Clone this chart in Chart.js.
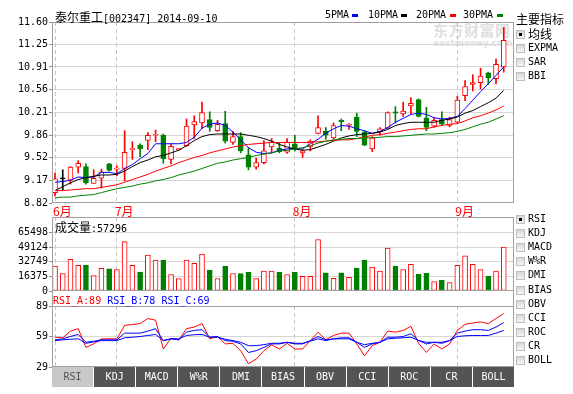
<!DOCTYPE html>
<html><head><meta charset="utf-8"><title>泰尔重工</title>
<script src="https://cdn.jsdelivr.net/npm/chart.js@4.4.1/dist/chart.umd.min.js"></script>
<style>
html,body{margin:0;padding:0;background:#fff;}
body{width:573px;height:394px;position:relative;overflow:hidden;font-family:"DejaVu Sans Mono",monospace;font-size:10px;color:#000;}
.a{position:absolute;white-space:nowrap;}
canvas{position:absolute;left:0;}
.cjk{font-family:"Noto Sans CJK SC",sans-serif;font-size:12px;}
.m{font-family:"DejaVu Sans Mono",monospace;font-size:10px;}
.cb{position:absolute;left:516px;width:7px;height:7px;border:1px solid #bdbdbd;background:linear-gradient(#d6d6d6,#f6f6f6);}
.cb.on::after{content:"";position:absolute;left:2px;top:2px;width:3px;height:3px;background:#000;}
.lb{position:absolute;left:528px;line-height:12px;white-space:nowrap;}
#tabs{position:absolute;left:52px;top:367px;width:462px;height:20px;display:flex;}
#tabs div{flex:1;margin-right:1px;background:#545454;color:#fff;text-align:center;line-height:20px;font-size:10px;}
#tabs div.sel{background:#c8c8c8;color:#555;}
#tabs div:last-child{margin-right:0}
.dash{position:absolute;width:6px;height:3px;top:14px;}
</style></head><body>
<div class="a" style="left:433px;top:19px;color:#e0e0e0;font:bold 15px 'Noto Sans CJK SC',sans-serif;letter-spacing:0.5px;">东方财富网</div>
<div class="a" style="left:433px;top:38px;color:#e0e0e0;font:bold 9px 'DejaVu Sans',sans-serif;">eastmoney.com</div>
<canvas id="cp" width="516" height="221" style="top:0px"></canvas>
<canvas id="cv" width="516" height="96" style="top:205px"></canvas>
<canvas id="cr" width="516" height="92" style="top:285px"></canvas>
<div class="a" style="left:55px;top:10px;line-height:14px;"><span class="cjk">泰尔重工</span><span class="m">[002347] 2014-09-10</span></div>
<div class="a m" style="left:325px;top:9px;line-height:12px;">5PMA</div><div class="dash" style="left:352px;background:#0000ff"></div>
<div class="a m" style="left:368px;top:9px;line-height:12px;">10PMA</div><div class="dash" style="left:401px;background:#000"></div>
<div class="a m" style="left:416px;top:9px;line-height:12px;">20PMA</div><div class="dash" style="left:450px;background:#ff0000"></div>
<div class="a m" style="left:463px;top:9px;line-height:12px;">30PMA</div><div class="dash" style="left:497px;background:#008000"></div>
<div class="a cjk" style="left:516px;top:12px;line-height:14px;">主要指标</div>
<div class="a" style="left:55px;top:220px;line-height:14px;"><span class="cjk">成交量</span><span class="m">:57296</span></div>
<div class="a m" style="left:53px;top:295px;line-height:12px;"><span style="color:#ff0000">RSI_A:89</span> <span style="color:#0000ff">RSI_B:78</span> <span style="color:#0000ff">RSI_C:69</span></div>
<div id="side"></div>
<div id="tabs"></div>
<script>
// ---- data ----
const monthLabels = ['6月', '7月', '8月', '9月'];
const monthStarts = [0, 8, 31, 52];            // bar index of first trading day of each month
const openP  = [8.98,9.19,9.17,9.37,9.38,9.12,9.20,9.42,9.34,9.35, 9.64,9.71,9.78,9.86,9.86,9.49,9.64,9.70,10.02,10.05, 10.10,9.93,10.04,9.75,9.84,9.56,9.37,9.44,9.68,9.66, 9.60,9.73,9.59,9.69,9.89,9.92,9.82,10.09,10.01,10.14, 9.91,9.65,9.91,9.97,10.22,10.19,10.31,10.41,10.13,10.00, 10.10,10.01,10.06,10.47,10.64,10.67,10.82,10.73,10.91];
const highP  = [9.28,9.33,9.38,9.47,9.42,9.33,9.34,9.43,9.39,9.93, 9.76,9.73,9.90,9.94,9.88,9.73,9.66,10.11,10.16,10.37, 10.22,10.09,10.23,9.92,9.90,9.67,9.51,9.78,9.81,9.75, 9.81,9.86,9.64,9.79,10.16,9.98,10.05,10.11,10.04,10.20, 9.93,9.84,9.98,10.22,10.30,10.37,10.44,10.42,10.29,10.13, 10.22,10.14,10.46,10.70,10.79,10.89,10.83,11.03,11.52];
const lowP   = [8.93,9.02,9.11,9.28,9.11,9.12,9.05,9.31,9.24,9.16, 9.49,9.53,9.64,9.76,9.43,9.42,9.63,9.69,9.81,9.96, 9.92,9.92,9.74,9.72,9.59,9.33,9.34,9.42,9.59,9.59, 9.58,9.62,9.52,9.62,9.88,9.80,9.80,9.93,9.95,9.84, 9.70,9.61,9.86,9.96,10.05,10.15,10.19,10.14,9.93,9.98, 10.02,9.99,10.04,10.39,10.54,10.57,10.64,10.65,10.83];
const closeP = [9.19,9.19,9.37,9.43,9.13,9.20,9.30,9.32,9.35,9.60, 9.65,9.65,9.86,9.87,9.50,9.69,9.65,10.00,10.07,10.21, 9.98,10.03,9.77,9.84,9.62,9.37,9.44,9.62,9.75,9.61, 9.75,9.65,9.62,9.77,9.98,9.86,10.01,10.07,10.03,9.92, 9.71,9.82,9.96,10.21,10.20,10.23,10.35,10.15,9.98,10.09, 10.03,10.10,10.40,10.61,10.67,10.77,10.74,10.95,11.32];
const ma5  = [9.14,9.15,9.17,9.22,9.21,9.22,9.29,9.29,9.27,9.35, 9.41,9.50,9.58,9.73,9.73,9.73,9.73,9.75,9.83,9.97, 10.03,10.05,10.01,9.91,9.79,9.67,9.60,9.58,9.59,9.63, 9.65,9.66,9.65,9.73,9.80,9.89,9.96,10.01,10.00,9.96, 9.93,9.89,9.92,9.98,10.06,10.12,10.18,10.20,10.18,10.13, 10.11,10.12,10.15,10.27,10.40,10.53,10.65,10.78,10.91];
const ma10 = [9.01,9.07,9.13,9.18,9.21,9.23,9.25,9.25,9.26,9.31, 9.38,9.44,9.48,9.53,9.55,9.59,9.63,9.70,9.78,9.84, 9.87,9.88,9.88,9.88,9.88,9.86,9.84,9.81,9.77,9.72, 9.68,9.65,9.63,9.64,9.68,9.72,9.77,9.82,9.85,9.87, 9.88,9.89,9.91,9.95,10.01,10.04,10.06,10.06,10.06,10.06, 10.09,10.11,10.14,10.20,10.24,10.30,10.36,10.43,10.55];
const ma20 = [9.01,9.01,9.02,9.03,9.04,9.04,9.06,9.08,9.10,9.14, 9.18,9.22,9.26,9.31,9.35,9.39,9.44,9.48,9.52,9.55, 9.59,9.62,9.65,9.68,9.70,9.72,9.73,9.74,9.75,9.75, 9.75,9.75,9.75,9.75,9.76,9.77,9.78,9.79,9.79,9.81, 9.83,9.86,9.87,9.89,9.91,9.93,9.95,9.96,9.96,9.99, 10.01,10.03,10.04,10.08,10.13,10.16,10.20,10.25,10.31];
const ma30 = [8.90,8.91,8.91,8.93,8.94,8.95,8.98,9.01,9.04,9.06, 9.08,9.11,9.13,9.16,9.18,9.21,9.25,9.28,9.31,9.35, 9.39,9.43,9.45,9.48,9.50,9.52,9.55,9.57,9.59,9.62, 9.63,9.65,9.67,9.70,9.74,9.77,9.79,9.80,9.81,9.81, 9.82,9.82,9.83,9.84,9.84,9.85,9.86,9.87,9.88,9.88, 9.89,9.90,9.92,9.95,9.99,10.03,10.06,10.11,10.16];
const volume = [27900,19600,35500,28700,29000,17300,25300,24800,24100,55200, 28700,21100,40100,34700,34700,18400,13900,34700,31000,41200, 23300,13900,27900,19600,19600,21100,13900,22200,22200,21100, 18400,21100,16500,16500,57500,20300,14200,20300,15400,25600, 34700,26800,22200,48000,27900,24100,29800,18800,19900,10500, 12000,9300,28700,39300,29800,24100,16500,22200,49200];
const rsiA = [58.3,57.7,64.3,66.7,48.3,51.7,56.7,56.7,56.7,70.0, 70.7,71.7,76.7,75.0,46.7,57.3,55.7,66.7,68.3,71.7, 56.7,59.0,51.7,52.3,45.0,32.3,36.7,45.0,50.7,46.7, 52.3,46.7,46.7,55.0,63.3,55.7,60.0,62.3,62.3,51.7, 40.0,50.0,53.3,64.3,63.3,65.0,69.0,52.3,43.3,51.7, 46.7,51.7,65.0,71.0,72.3,73.3,71.7,76.7,81.7];
const rsiB = [55.7,56.7,59.0,61.0,53.3,54.3,55.7,55.7,55.7,62.3, 62.3,62.3,64.3,66.7,55.0,56.7,55.7,63.3,65.0,65.7, 58.3,59.0,55.0,54.3,51.7,43.3,45.0,48.3,51.7,51.7, 53.3,51.7,51.7,55.0,59.0,55.7,56.7,57.7,57.7,53.3, 48.3,51.7,53.3,58.3,58.3,59.0,61.7,55.0,51.7,53.3, 52.3,55.0,62.3,64.3,65.7,65.7,65.0,68.3,72.7];
const rsiC = [55.0,55.7,56.3,56.7,52.3,53.7,55.0,55.0,55.0,57.7, 58.3,59.0,60.0,61.0,55.0,56.7,56.7,60.0,60.7,61.0, 58.3,58.3,56.3,55.0,53.3,50.0,50.0,51.0,52.3,52.3, 53.3,52.3,52.3,54.3,56.7,55.0,56.7,56.7,56.7,53.3, 51.0,52.3,53.3,56.7,57.3,57.7,58.3,55.0,53.3,53.3, 53.3,55.0,59.0,59.7,60.0,60.0,60.0,62.3,65.0];
const priceTicks = ['8.82','9.17','9.52','9.86','10.21','10.56','10.91','11.25','11.60'];
const volTicks = ['0','16375','32749','49124','65498'];
const rsiTicks = ['29','59','89'];
const mainIndicators = ['均线','EXPMA','SAR','BBI'];
const subIndicators = ['RSI','KDJ','MACD','W%R','DMI','BIAS','OBV','CCI','ROC','CR','BOLL'];

// ---- styling ----
const RED = '#ff0000', GREEN = '#008000', BLUE = '#0000ff';
const MONO = '"DejaVu Sans Mono", monospace';
const idx = openP.map((_, i) => i);
const candleColor = idx.map(i => closeP[i] > openP[i] ? RED : (closeP[i] < openP[i] ? GREEN : '#000'));
const volColor = idx.map(i => closeP[i] >= openP[i] ? RED : GREEN);
const X_MIN = -0.388, X_MAX = 59.325;

function xScale(show) {
  return {
    type: 'linear', min: X_MIN, max: X_MAX, offset: false,
    afterBuildTicks: s => { s.ticks = monthStarts.map(v => ({ value: v })); },
    afterFit: s => { s.height = show ? 18 : 0; },
    grid: { display: true, drawTicks: false, offset: false, color: '#c4c4c4', lineWidth: 1 },
    border: { display: false, dash: [4, 3] },
    ticks: { display: show, autoSkip: false, maxRotation: 0, minRotation: 0, align: 'start', labelOffset: -2,
      color: RED, font: { family: '"Noto Sans CJK SC", sans-serif', size: 12 }, padding: 1,
      callback: (v, i) => monthLabels[i] }
  };
}
function yScale(min, max, labels) {
  return {
    type: 'linear', min, max, beginAtZero: false,
    afterBuildTicks: s => { s.ticks = labels.map(t => ({ value: parseFloat(t) })); },
    afterFit: s => { s.width = 52; },
    grid: { color: c => (c.tick && (c.tick.value === min || c.tick.value === max)) ? 'rgba(0,0,0,0)' : '#d6d6d6',
      tickLength: 3, tickColor: '#909090', drawTicks: true },
    border: { display: false },
    ticks: { color: '#000', font: { family: MONO, size: 10 }, padding: 1, autoSkip: false,
      callback: (v, i) => labels[i] }
  };
}
function frame(extraTop) {
  return { id: 'frame', afterDraw(chart) {
    const { ctx, chartArea: a } = chart;
    ctx.save(); ctx.strokeStyle = '#a0a0a0'; ctx.lineWidth = 1;
    ctx.strokeRect(a.left + 0.5, a.top + 0.5, a.right - a.left - 1, a.bottom - a.top - 1);
    if (extraTop) {
      const t = a.top + 0.5 - extraTop;
      ctx.beginPath();
      ctx.moveTo(a.left + 0.5, a.top + 0.5); ctx.lineTo(a.left + 0.5, t);
      ctx.lineTo(a.right - 0.5, t); ctx.lineTo(a.right - 0.5, a.top + 0.5);
      ctx.stroke();
    }
    ctx.restore();
  } };
}
const common = (pad) => ({
  responsive: false, animation: false, devicePixelRatio: 1, events: [],
  layout: { padding: pad },
  plugins: { legend: { display: false }, tooltip: { enabled: false } }
});
const line = (arr, color) => ({ type: 'line', data: idx.map(i => ({ x: i, y: arr[i] })), borderColor: color,
  borderWidth: 1, pointRadius: 0, tension: 0, order: 0 });

// ---- price chart ----
new Chart(document.getElementById('cp'), {
  type: 'bar',
  data: { datasets: [
    { data: idx.map(i => ({ x: i, y: [lowP[i], highP[i]] })), backgroundColor: candleColor, borderWidth: 0,
      barThickness: 1, grouped: false, order: 3 },
    { data: idx.map(i => ({ x: i, y: [openP[i], closeP[i]] })),
      backgroundColor: idx.map(i => closeP[i] > openP[i] ? '#ffffff' : candleColor[i]),
      borderColor: candleColor, borderWidth: 1, borderSkipped: false, barThickness: 5, minBarLength: 1,
      grouped: false, order: 2 },
    line(ma30, GREEN), line(ma20, RED), line(ma10, '#000'), line(ma5, BLUE)
  ] },
  options: Object.assign(common({ left: 0, right: 2, top: 22, bottom: 0 }), {
    scales: { x: xScale(true), y: yScale(8.82, 11.60, priceTicks) }
  }),
  plugins: [frame(0)]
});

// ---- volume chart ----
new Chart(document.getElementById('cv'), {
  type: 'bar',
  data: { datasets: [
    { data: idx.map(i => ({ x: i, y: volume[i] })),
      backgroundColor: idx.map(i => volColor[i] === RED ? '#ffffff' : GREEN),
      borderColor: volColor, borderWidth: 1, borderSkipped: false, barThickness: 5, grouped: false }
  ] },
  options: Object.assign(common({ left: 0, right: 2, top: 12, bottom: 10 }), {
    scales: { x: xScale(false), y: yScale(0, 82853, volTicks) }
  }),
  plugins: [frame(0)]
});

// ---- RSI chart ----
new Chart(document.getElementById('cr'), {
  type: 'line',
  data: { datasets: [ line(rsiC, BLUE), line(rsiB, BLUE), line(rsiA, RED) ] },
  options: Object.assign(common({ left: 0, right: 2, top: 21, bottom: 10 }), {
    scales: { x: xScale(false), y: yScale(29, 89, rsiTicks) }
  }),
  plugins: [frame(16)]
});

// ---- side panel & tabs ----
const side = document.getElementById('side');
let html = '';
mainIndicators.forEach((n, k) => {
  const cy = [34, 48, 62, 76][k];
  html += `<div class="cb${k === 0 ? ' on' : ''}" style="top:${cy - 4}px"></div>`;
  html += `<div class="lb ${/[^\x00-\x7f]/.test(n) ? 'cjk' : 'm'}" style="top:${cy - 6}px">${n}</div>`;
});
subIndicators.forEach((n, k) => {
  const cy = Math.round(219 + 14.1 * k);
  html += `<div class="cb${k === 0 ? ' on' : ''}" style="top:${cy - 4}px"></div>`;
  html += `<div class="lb m" style="top:${cy - 6}px">${n}</div>`;
});
side.innerHTML = html;
document.getElementById('tabs').innerHTML = subIndicators.map((n, k) => `<div class="m${k === 0 ? ' sel' : ''}">${n}</div>`).join('');
</script>
</body></html>
